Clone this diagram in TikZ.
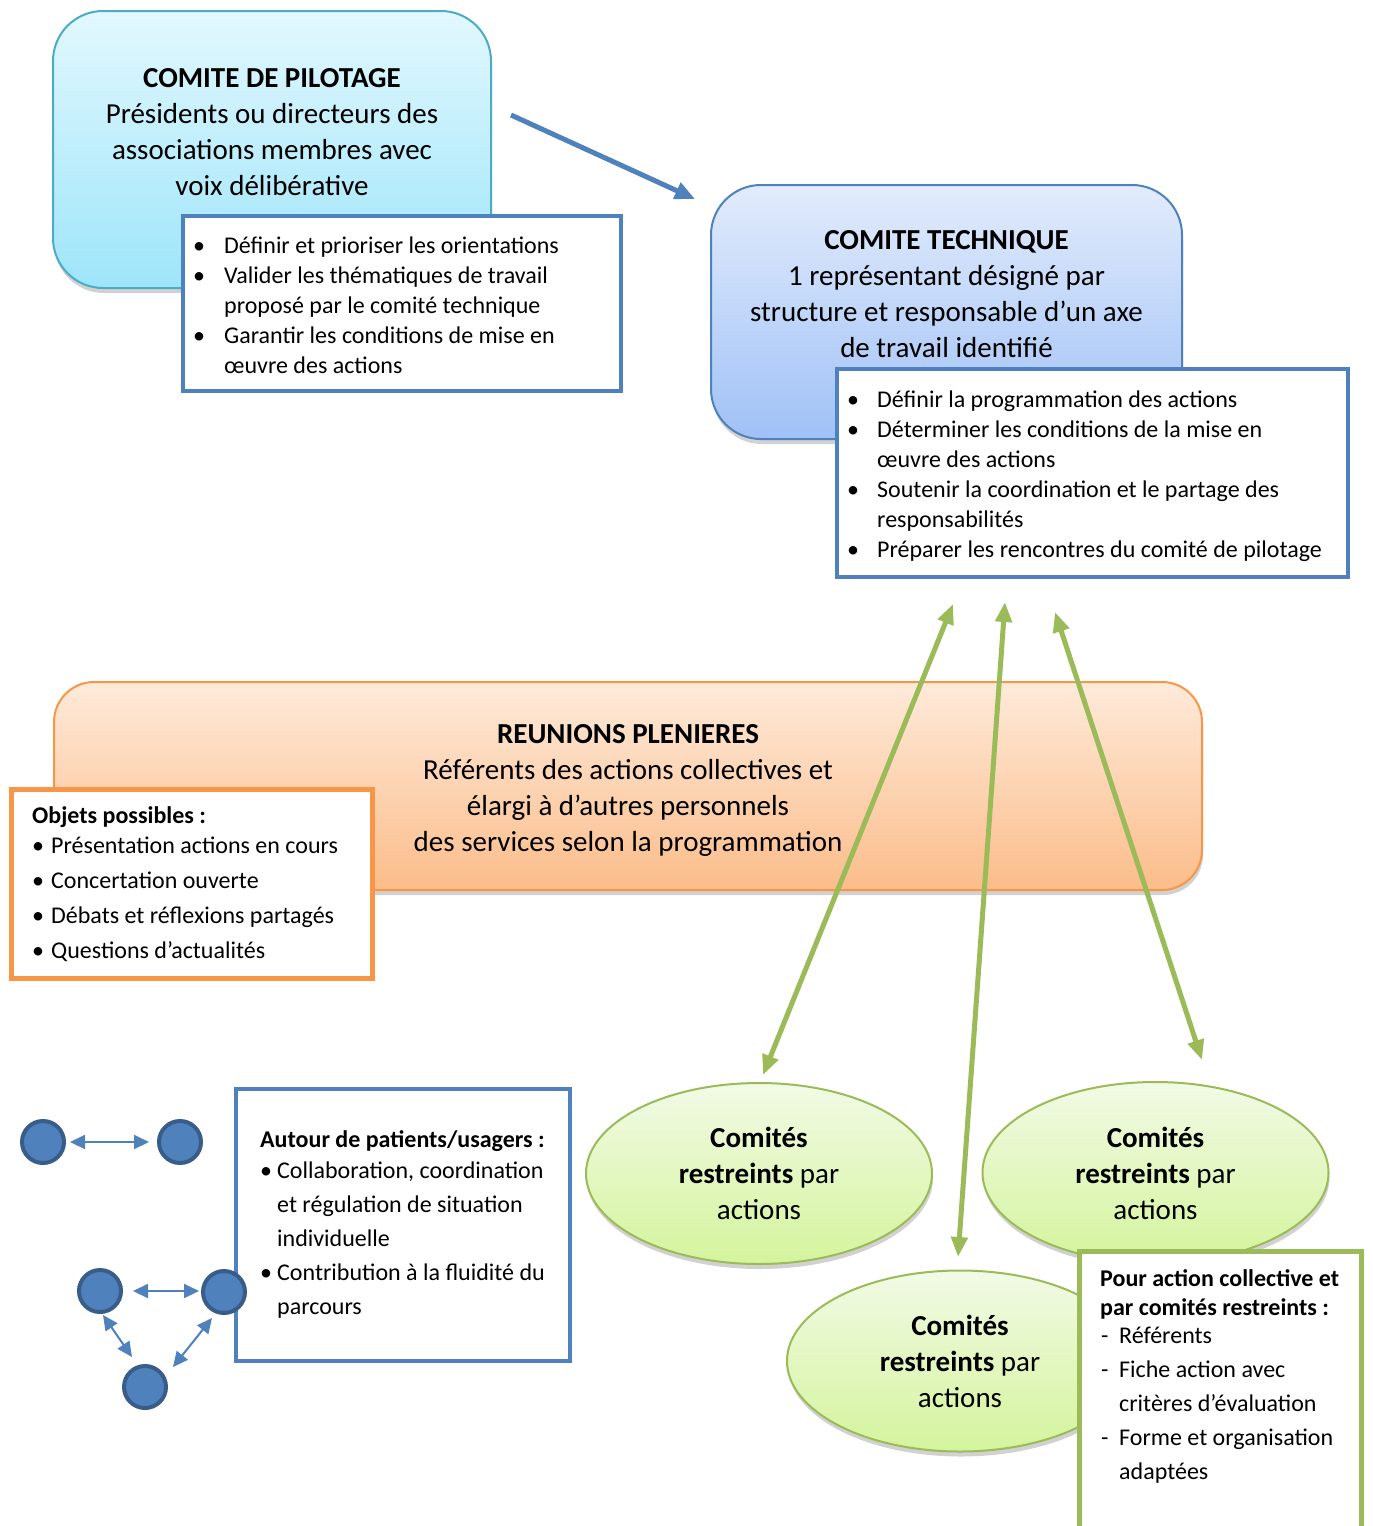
\documentclass[tikz,border=0pt]{standalone}
\usepackage{fontspec}
\setmainfont{Carlito}
\usetikzlibrary{shapes.geometric,shadows,arrows.meta,calc}
\definecolor{pilfillA}{RGB}{226,248,254}
\definecolor{pilfillB}{RGB}{158,229,250}
\definecolor{pilborder}{RGB}{75,172,198}
\definecolor{tecfillA}{RGB}{226,236,252}
\definecolor{tecfillB}{RGB}{160,193,246}
\definecolor{blueline}{RGB}{79,129,189}
\definecolor{plefillA}{RGB}{254,234,218}
\definecolor{plefillB}{RGB}{251,189,138}
\definecolor{orangeline}{RGB}{247,150,70}
\definecolor{ellfillA}{RGB}{242,250,230}
\definecolor{ellfillB}{RGB}{212,244,156}
\definecolor{greenline}{RGB}{155,187,89}
\definecolor{circdark}{RGB}{56,93,138}
\begin{document}
\begin{tikzpicture}[x=1pt,y=-1pt,
  shade/.style={drop shadow={shadow xshift=1pt,shadow yshift=-5pt,fill=black,opacity=0.18}},
  roundbox/.style={rectangle,rounded corners=50pt,line width=2pt,inner sep=0pt,shade},
  listbox/.style={rectangle,fill=white,inner sep=0pt},
  comite/.style={ellipse,draw=greenline,line width=2pt,top color=ellfillA,bottom color=ellfillB,
     minimum width=346pt,minimum height=181pt,inner sep=0pt,shade},
  bigtext/.style={inner sep=0pt,anchor=base,font=\fontsize{29}{36}\selectfont},
  listtext/.style={inner sep=0pt,anchor=base west,font=\fontsize{24}{30}\selectfont},
  person/.style={circle,fill=blueline,draw=circdark,line width=4pt,minimum size=42pt,inner sep=0pt},
  bluearrow/.style={draw=blueline,line width=5pt,-{Triangle[length=20pt,width=17pt]}},
  greenarrow/.style={draw=greenline,line width=5pt,{Triangle[length=20pt,width=16pt]}-{Triangle[length=20pt,width=16pt]}},
  smallarrow/.style={draw=blueline,fill=blueline,line width=2pt,{Triangle[length=15pt,width=14pt]}-{Triangle[length=15pt,width=14pt]}}
]
\useasboundingbox (0,0) rectangle (1373,1526);
\fill[white] (0,0) rectangle (1373,1526);

% ---- Comite de pilotage
\node[roundbox,draw=pilborder,top color=pilfillA,bottom color=pilfillB,
  minimum width=438pt,minimum height=277pt] (pil) at (272,149.5) {};
\node[bigtext] (pilt) at (272,87) {\begin{tabular}[t]{@{}c@{}}\textbf{COMITE DE PILOTAGE}\\Présidents ou directeurs des\\associations membres avec\\voix délibérative\end{tabular}};
\node[listbox,draw=blueline,line width=4.5pt,minimum width=438pt,minimum height=175pt] (pilb) at (402,303.5) {};
\node[listtext] (pilbt) at (193,253) {\begin{tabular}[t]{@{}l@{}l@{}}
\makebox[31pt][l]{•}&Définir et prioriser les orientations\\
\makebox[31pt][l]{•}&Valider les thématiques de travail\\
&proposé par le comité technique\\
\makebox[31pt][l]{•}&Garantir les conditions de mise en\\
&œuvre des actions\end{tabular}};

% ---- arrow pilotage -> technique
\coordinate (a1) at (511,115);
\coordinate (a2) at (695,199);
\draw[bluearrow] (a1) -- (a2);

% ---- Comite technique
\node[roundbox,draw=blueline,top color=tecfillA,bottom color=tecfillB,
  minimum width=471pt,minimum height=254pt] (tec) at (946.5,312) {};
\node[bigtext] (tect) at (946.5,249) {\begin{tabular}[t]{@{}c@{}}\textbf{COMITE TECHNIQUE}\\1 représentant désigné par\\structure et responsable d’un axe\\de travail identifié\end{tabular}};
\node[listbox,draw=blueline,line width=4.5pt,minimum width=511pt,minimum height=208pt] (tecb) at (1092.5,473) {};
\node[listtext] (tecbt) at (847,407) {\begin{tabular}[t]{@{}l@{}l@{}}
\makebox[30pt][l]{•}&Définir la programmation des actions\\
\makebox[30pt][l]{•}&Déterminer les conditions de la mise en\\
&œuvre des actions\\
\makebox[30pt][l]{•}&Soutenir la coordination et le partage des\\
&responsabilités\\
\makebox[30pt][l]{•}&Préparer les rencontres du comité de pilotage\end{tabular}};

% ---- Reunions plenieres
\node[roundbox,rounded corners=40pt,draw=orangeline,top color=plefillA,bottom color=plefillB,
  minimum width=1148pt,minimum height=208pt] (ple) at (628,786) {};
\node[bigtext] (plet) at (628,743) {\begin{tabular}[t]{@{}c@{}}\textbf{REUNIONS PLENIERES}\\Référents des actions collectives et\\élargi à d’autres personnels\\des services selon la programmation\end{tabular}};
\node[listbox,draw=orangeline,line width=5pt,minimum width=361pt,minimum height=189pt] (obj) at (192,884) {};
\node[listtext] (objt) at (32,823) {\begin{tabular}[t]{@{}l@{}l@{}}
\multicolumn{2}{@{}l@{}}{\textbf{Objets possibles :}}\\
\makebox[19pt][l]{•}&Présentation actions en cours\\[5pt]
\makebox[19pt][l]{•}&Concertation ouverte\\[5pt]
\makebox[19pt][l]{•}&Débats et réflexions partagés\\[5pt]
\makebox[19pt][l]{•}&Questions d’actualités\end{tabular}};

% ---- green arrows
\coordinate (g1s) at (953,604);
\coordinate (g1e) at (763,1075);
\coordinate (g2s) at (1005,602);
\coordinate (g2e) at (958,1257);
\coordinate (g3s) at (1055,612);
\coordinate (g3e) at (1202,1060);
\draw[greenarrow] (g1s) -- (g1e);
\draw[greenarrow] (g2s) -- (g2e);
\draw[greenarrow] (g3s) -- (g3e);

% ---- comites restreints
\node[comite] (e1) at (759,1173.5) {};
\node[bigtext] (e1t) at (759,1147) {\begin{tabular}[t]{@{}c@{}}\textbf{Comités}\\\textbf{restreints} par\\actions\end{tabular}};
\node[comite] (e2) at (1155.5,1172.5) {};
\node[bigtext] (e2t) at (1155.5,1147) {\begin{tabular}[t]{@{}c@{}}\textbf{Comités}\\\textbf{restreints} par\\actions\end{tabular}};
\node[comite] (e3) at (960,1361) {};
\node[bigtext] (e3t) at (960,1335) {\begin{tabular}[t]{@{}c@{}}\textbf{Comités}\\\textbf{restreints} par\\actions\end{tabular}};

\node[listbox,draw=greenline,line width=5pt,minimum width=282pt,minimum height=300pt] (pour) at (1220.5,1401.5) {};
\node[listtext,font=\fontsize{24}{28}\selectfont] (pourt) at (1100,1286) {\begin{tabular}[t]{@{}l@{}l@{}}
\multicolumn{2}{@{}l@{}}{\textbf{Pour action collective et}}\\[1pt]
\multicolumn{2}{@{}l@{}}{\textbf{par comités restreints :}}\\
\makebox[19pt][l]{\hspace{1pt}-}&Référents\\[6pt]
\makebox[19pt][l]{\hspace{1pt}-}&Fiche action avec\\[6pt]
&critères d’évaluation\\[6pt]
\makebox[19pt][l]{\hspace{1pt}-}&Forme et organisation\\[6pt]
&adaptées\end{tabular}};

% ---- autour de patients
\node[listbox,draw=blueline,line width=4.5pt,minimum width=334pt,minimum height=272pt] (aut) at (403,1225) {};
\node[listtext,font=\fontsize{24}{31}\selectfont] (autt) at (260,1147) {\begin{tabular}[t]{@{}l@{}l@{}}
\multicolumn{2}{@{}l@{}}{\textbf{Autour de patients/usagers :}}\\
\makebox[17pt][l]{•}&Collaboration, coordination\\[3pt]
&et régulation de situation\\[3pt]
&individuelle\\[3pt]
\makebox[17pt][l]{•}&Contribution à la fluidité du\\[3pt]
&parcours\end{tabular}};

\node[person] (c1) at (43,1142) {};
\node[person] (c2) at (180,1142) {};
\node[person] (c3) at (100,1291) {};
\node[person] (c4) at (224,1292) {};
\node[person] (c5) at (145,1387) {};
\draw[smallarrow] ($(c1)+(27,0)$) -- ($(c2)+(-31,0)$);
\draw[smallarrow] ($(c3)+(33,0)$) -- ($(c4)+(-25,-1)$);
\draw[smallarrow] ($(c3)+(3,24)$) -- ($(c5)+(-13,-30)$);
\draw[smallarrow] ($(c4)+(-12,26)$) -- ($(c5)+(28,-20)$);
\end{tikzpicture}
\end{document}
